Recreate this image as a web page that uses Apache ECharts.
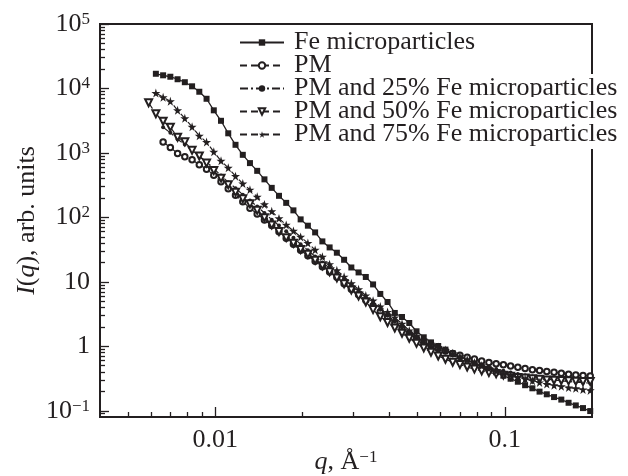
<!DOCTYPE html>
<html><head><meta charset="utf-8">
<script src="https://cdn.jsdelivr.net/npm/echarts@6/dist/echarts.min.js"></script>
<style>html,body{margin:0;padding:0;background:#fff}#c{width:628px;height:476px}</style>
</head><body><div id="c"></div>
<script>
// q grid (Å^-1), shared by all series; each series is aligned to the END of this grid
const qGrid = [0.005888,0.006237,0.006607,0.006998,0.007413,0.007852,0.008318,0.008810,0.009333,0.009886,
  0.01047,0.01109,0.01175,0.01245,0.01318,0.01396,0.01479,0.01567,0.01660,0.01758,
  0.01862,0.01972,0.02089,0.02213,0.02344,0.02483,0.02630,0.02786,0.02951,0.03126,
  0.03311,0.03508,0.03715,0.03936,0.04169,0.04416,0.04677,0.04955,0.05248,0.05559,
  0.05888,0.06237,0.06607,0.06998,0.07413,0.07852,0.08318,0.08810,0.09333,0.09886,
  0.1047,0.1109,0.1175,0.1245,0.1318,0.1396,0.1479,0.1567,0.1660,0.1758,0.1862,0.1972];

const seriesNames = ['Fe microparticles','PM','PM and 25% Fe microparticles','PM and 50% Fe microparticles','PM and 75% Fe microparticles'];

const feMicro = [16900,16000,15200,13900,12500,10800,8890,6920,4580,3150,2015,1336,934,695,527,389,287,216,168,128.5,
  93.1,74.3,58.5,42.4,34.2,28.3,22.0,16.7,14.0,11.9,9.12,6.49,4.87,3.29,2.85,2.30,1.71,1.38,1.15,1.01,
  0.889,0.781,0.697,0.624,0.548,0.491,0.441,0.396,0.349,0.314,0.282,0.249,0.223,0.198,0.180,0.163,0.149,0.133,0.121,0.110,0.0989];
const pm = [1476,1217,982,869,782,658,560,452,358,277,220,175,139,113,91.4,74.6,60.0,47.5,38.2,30.8,
  25.4,20.9,17.2,14.2,11.8,9.34,7.65,6.31,5.18,4.27,3.44,2.84,2.32,1.90,1.56,1.32,1.15,1.03,0.924,0.845,
  0.776,0.723,0.675,0.633,0.593,0.560,0.537,0.516,0.494,0.472,0.452,0.433,0.421,0.405,0.395,0.382,0.370,0.358,0.351,0.346];
const pm25 = [2500,2051,1626,1349,1079,891,728,570,446,352,284,225,182,148,117,92.1,74.8,61.1,48.1,38.2,
  30.8,24.8,20.0,16.4,13.5,10.9,8.76,7.05,5.66,4.59,3.69,2.98,2.40,1.95,1.56,1.32,1.13,1.00,0.892,0.801,
  0.720,0.653,0.598,0.548,0.505,0.474,0.444,0.417,0.392,0.371,0.355,0.339,0.324,0.311,0.300,0.290,0.284,0.278,0.273,0.268];
const pm50 = [6000,4050,3100,2500,1746,1486,1097,895,695,533,406,320,246,194,162,128.5,98.9,76.5,60.2,48.5,
  39.7,31.7,26.8,21.6,17.8,14.3,11.5,9.31,7.48,6.04,4.87,3.71,2.88,2.34,1.92,1.59,1.33,1.11,0.944,0.810,
  0.707,0.631,0.566,0.520,0.477,0.443,0.415,0.391,0.374,0.357,0.342,0.329,0.321,0.314,0.307,0.301,0.298,0.294,0.291,0.288,0.285,0.284];
const pm75 = [8490,7300,6320,4580,3445,2541,1845,1472,1040,754,587,436,334,269,208,159,124,96.4,76.5,61.7,
  49.8,39.9,31.3,24.4,18.8,15.1,12.0,9.48,7.67,6.15,5.11,4.15,3.41,2.80,2.23,1.76,1.45,1.26,1.09,0.975,
  0.877,0.778,0.697,0.624,0.560,0.503,0.452,0.413,0.382,0.357,0.334,0.313,0.293,0.275,0.260,0.249,0.239,0.229,0.223,0.214,0.207];

const xRange = [0.004, 0.2];
const yRange = [0.08, 100000];
const xMajor = [0.01, 0.1];
const xMajorLabels = ['0.01', '0.1'];
const yMajor = [0.1, 1, 10, 100, 1000, 10000, 100000];
const yMajorLabels = ['10{e|\u22121}', '1', '10', '10{e|2}', '10{e|3}', '10{e|4}', '10{e|5}'];

const L = Math.log10;
const INK = '#231f20';
const FONT = 'Liberation Serif';

function minorTicks(range) {
  const out = [];
  const lo = Math.floor(L(range[0])), hi = Math.ceil(L(range[1]));
  for (let d = lo; d < hi; d++) {
    for (let k = 2; k <= 9; k++) {
      const v = k * Math.pow(10, d);
      if (v > range[0] * 1.001 && v < range[1] * 0.999) out.push(L(v));
    }
  }
  return out;
}
const xMajorLog = xMajor.map(L), yMajorLog = yMajor.map(L);
const xMinorLog = minorTicks(xRange), yMinorLog = minorTicks(yRange);

function pairs(arr) {
  const off = qGrid.length - arr.length;
  return arr.map((v, i) => [L(qGrid[i + off]), L(v)]);
}
function findLabel(v, ticks, labels) {
  const i = ticks.findIndex(t => Math.abs(t - v) < 1e-6);
  return i >= 0 ? labels[i] : '';
}

const supRich = { e: { fontSize: 17, lineHeight: 17, verticalAlign: 'top', fontFamily: FONT, color: INK } };
const starPath = 'path://M50,0 L61,35 L98,35 L68,57 L79,91 L50,70 L21,91 L32,57 L2,35 L39,35 Z';

const baseAxis = { type: 'value', splitLine: { show: false } };

const chart = echarts.init(document.getElementById('c'));
chart.setOption({
  animation: false,
  backgroundColor: '#fff',
  grid: { left: 100, right: 36, top: 24, bottom: 59, containLabel: false, outerBoundsMode: 'none',
    show: true, borderColor: INK, borderWidth: 2, backgroundColor: 'transparent' },
  legend: {
    orient: 'vertical', left: 234, top: 23, itemWidth: 44, itemHeight: 8, itemGap: -6,
    data: seriesNames,
    textStyle: { fontFamily: FONT, fontSize: 26, color: INK, lineHeight: 29, backgroundColor: '#fff', padding: [0, 0, 0, 5] }
  },
  xAxis: [
    Object.assign({}, baseAxis, {
      min: L(xRange[0]), max: L(xRange[1]), position: 'bottom',
      axisLine: { onZero: false, lineStyle: { color: INK, width: 2 } },
      axisTick: { inside: true, length: 10, customValues: xMajorLog, lineStyle: { color: INK, width: 1.3 } },
      axisLabel: { customValues: xMajorLog, formatter: v => findLabel(v, xMajorLog, xMajorLabels), fontFamily: FONT, fontSize: 26, color: INK, margin: 10 },
      name: '{i|q}, \u00C5{e|\u22121}', nameLocation: 'middle', nameGap: 32, nameMoveOverlap: false,
      nameTextStyle: { fontFamily: FONT, fontSize: 26, color: INK, lineHeight: 26,
        rich: Object.assign({ i: { fontStyle: 'italic', fontFamily: FONT, fontSize: 26, color: INK } }, supRich) }
    }),
    Object.assign({}, baseAxis, {
      min: L(xRange[0]), max: L(xRange[1]), position: 'bottom',
      axisLine: { show: false, onZero: false },
      axisTick: { inside: true, length: 5, customValues: xMinorLog, lineStyle: { color: INK, width: 1.3 } },
      axisLabel: { show: false }
    })
  ],
  yAxis: [
    Object.assign({}, baseAxis, {
      min: L(yRange[0]), max: L(yRange[1]), position: 'left',
      axisLine: { onZero: false, lineStyle: { color: INK, width: 2 } },
      axisTick: { inside: true, length: 9, customValues: yMajorLog, lineStyle: { color: INK, width: 1.3 } },
      axisLabel: { customValues: yMajorLog, formatter: v => findLabel(v, yMajorLog, yMajorLabels), fontFamily: FONT, fontSize: 26, lineHeight: 26, color: INK, margin: 10, rich: supRich },
      name: '{i|I}({i|q}), arb. units', nameLocation: 'middle', nameGap: 60, nameRotate: 90, nameMoveOverlap: false,
      nameTextStyle: { fontFamily: FONT, fontSize: 26, color: INK,
        rich: { i: { fontStyle: 'italic', fontFamily: FONT, fontSize: 26, color: INK } } }
    }),
    Object.assign({}, baseAxis, {
      min: L(yRange[0]), max: L(yRange[1]), position: 'left',
      axisLine: { show: false, onZero: false },
      axisTick: { inside: true, length: 5, customValues: yMinorLog, lineStyle: { color: INK, width: 1.3 } },
      axisLabel: { show: false }
    })
  ],
  series: [
    { name: seriesNames[0], type: 'line', data: pairs(feMicro), symbol: 'rect', symbolSize: 6, showAllSymbol: true,
      lineStyle: { color: INK, width: 1.3, type: 'solid' }, itemStyle: { color: INK } },
    { name: seriesNames[1], type: 'line', data: pairs(pm), symbol: 'emptyCircle', symbolSize: 5.5, showAllSymbol: true,
      lineStyle: { color: INK, width: 1.2, type: [7, 4] }, itemStyle: { color: INK, borderWidth: 1.2 } },
    { name: seriesNames[2], type: 'line', data: pairs(pm25), symbol: 'circle', symbolSize: 4, showAllSymbol: true,
      lineStyle: { color: INK, width: 1.2, type: [8, 3, 2, 3] }, itemStyle: { color: INK } },
    { name: seriesNames[3], type: 'line', data: pairs(pm50), symbol: 'emptyTriangle', symbolRotate: 180, symbolSize: 7, showAllSymbol: true,
      lineStyle: { color: INK, width: 1.2, type: [7, 4] }, itemStyle: { color: INK, borderWidth: 1.1 } },
    { name: seriesNames[4], type: 'line', data: pairs(pm75), symbol: starPath, symbolSize: 9, showAllSymbol: true,
      lineStyle: { color: INK, width: 1.2, type: [7, 4] }, itemStyle: { color: INK } }
  ]
});
</script>
</body></html>
